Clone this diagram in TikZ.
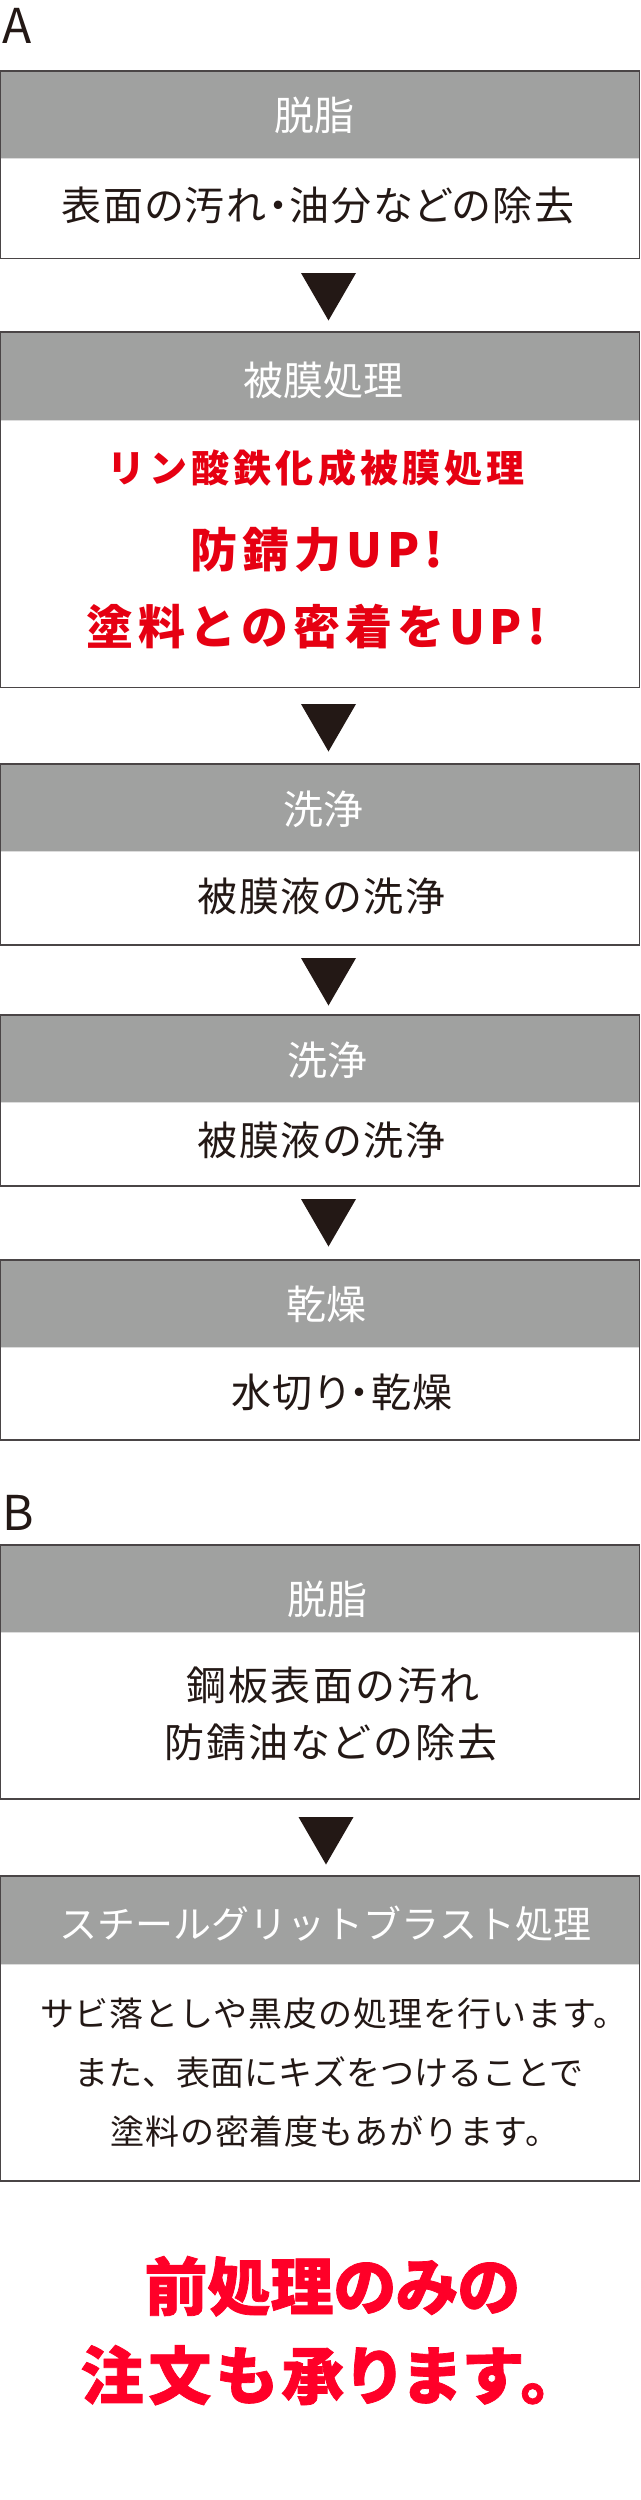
\documentclass[tikz,border=0pt]{standalone}
\usepackage{fontspec}
\setmainfont{Noto Sans CJK JP}
\newfontfamily\paltfont[RawFeature=+palt]{Noto Sans CJK JP}
\definecolor{ink}{HTML}{231815}
\definecolor{hdr}{HTML}{A0A1A0}
\definecolor{hdrline}{HTML}{DCDCDC}
\definecolor{frame}{HTML}{4A4546}
\definecolor{redA}{HTML}{E60012}
\definecolor{redB}{HTML}{FF0028}
\newcommand\flowbox[3]{%
  \fill[hdr] (0.5,#1) rectangle (639.5,#2);
  \draw[hdrline, line width=1pt] (0.5,{#2+0.5}) -- (639.5,{#2+0.5});
  \draw[frame, line width=1.1pt] (0.55,#1) rectangle (639.45,#3);
}
\newcommand\downtri[2]{%
  \fill[ink] ({#1-27.5},#2) -- ({#1+27.5},#2) -- (#1,{#2+47.5}) -- cycle;
}
\tikzset{
  hdrtxt/.style={anchor=base, inner sep=0pt, text=white, font=\fontsize{40}{40}\selectfont},
  bodytxt/.style={anchor=base, inner sep=0pt, text=ink, font=\fontsize{40}{40}\selectfont\addfontfeature{LetterSpace=4}},
  pbodytxt/.style={anchor=base, inner sep=0pt, text=ink, font=\paltfont\fontsize{40}{40}\selectfont\addfontfeature{LetterSpace=4}},
  smalltxt/.style={anchor=base, inner sep=0pt, text=ink, font=\fontsize{34}{34}\selectfont\addfontfeature{LetterSpace=2.5}},
  lettertxt/.style={anchor=base west, inner sep=0pt, text=ink, font=\fontsize{48}{48}\selectfont},
  redone/.style={anchor=base, inner sep=0pt, text=redA, font=\bfseries\fontsize{38}{38}\selectfont\addfontfeature{LetterSpace=10.8}},
  redtwo/.style={anchor=base, inner sep=0pt, text=redA, font=\bfseries\fontsize{47}{47}\selectfont\addfontfeature{LetterSpace=10.5}},
  redbig/.style={anchor=base, inner sep=0pt, text=redB, font=\paltfont\bfseries\fontsize{63}{63}\selectfont\addfontfeature{FakeBold=1.2}},
}
\begin{document}
\begin{tikzpicture}[x=1pt,y=-1pt]
\useasboundingbox (0,0) rectangle (640,2500);
\fill[white] (0,0) rectangle (640,2500);

% ---- A ----
\node[lettertxt] (la) at (2,43) {A};

\flowbox{71}{157.5}{258.5}
\node[hdrtxt] (h1) at (314.5,130) {脱脂};
\node[pbodytxt] (t1) at (318,220) {表面の汚れ・油分などの除去};
\downtri{328.5}{273}

\flowbox{332}{419.5}{687.5}
\node[hdrtxt] (h2) at (323.5,395) {被膜処理};
\node[redone] (r1) at (316,482) {リン酸鉄化成被膜処理};
\node[redtwo] (r2) at (317,567) {防錆力UP!};
\node[redtwo] (r3) at (316,644) {塗料との密着をUP!};
\downtri{328.5}{704}

\flowbox{764}{851}{945}
\node[hdrtxt] (h3) at (323,824) {洗浄};
\node[bodytxt] (t3) at (321.5,911) {被膜液の洗浄};
\downtri{328.5}{958}

\flowbox{1015}{1101.5}{1186}
\node[hdrtxt] (h4) at (327,1075) {洗浄};
\node[bodytxt] (t4) at (321.5,1155) {被膜液の洗浄};
\downtri{328.5}{1199}

\flowbox{1260}{1347}{1440}
\node[hdrtxt] (h5) at (326,1319) {乾燥};
\node[pbodytxt] (t5) at (342,1407) {水切り・乾燥};

% ---- B ----
\node[lettertxt] (lb) at (2,1530) {B};

\flowbox{1545}{1632}{1799}
\node[hdrtxt] (h6) at (327,1614) {脱脂};
\node[bodytxt, font=\fontsize{40}{40}\selectfont\addfontfeature{LetterSpace=5.5}] (t6a) at (333,1700) {鋼板表面の汚れ};
\node[bodytxt, font=\fontsize{40}{40}\selectfont\addfontfeature{LetterSpace=4.5}] (t6b) at (331,1757) {防錆油などの除去};
\downtri{326}{1817}

\flowbox{1876}{1964}{2181}
\node[hdrtxt, font=\fontsize{38}{38}\selectfont] (h7) at (325.6,1938) {スチールグリットブラスト処理};
\node[smalltxt] (t7a) at (334,2026) {サビ落としや黒皮の処理を行います。};
\node[smalltxt, font=\fontsize{34}{34}\selectfont] (t7b) at (329,2085) {また、表面にキズをつけることで};
\node[smalltxt] (t7c) at (335,2144) {塗料の密着度もあがります。};

% ---- note ----
\node[redbig] (n1) at (332,2310) {前処理のみの};
\node[redbig, font=\paltfont\bfseries\fontsize{63}{63}\selectfont\addfontfeature{FakeBold=1.2,LetterSpace=7.5}] (n2) at (316,2399) {注文も承ります。};
\end{tikzpicture}
\end{document}
